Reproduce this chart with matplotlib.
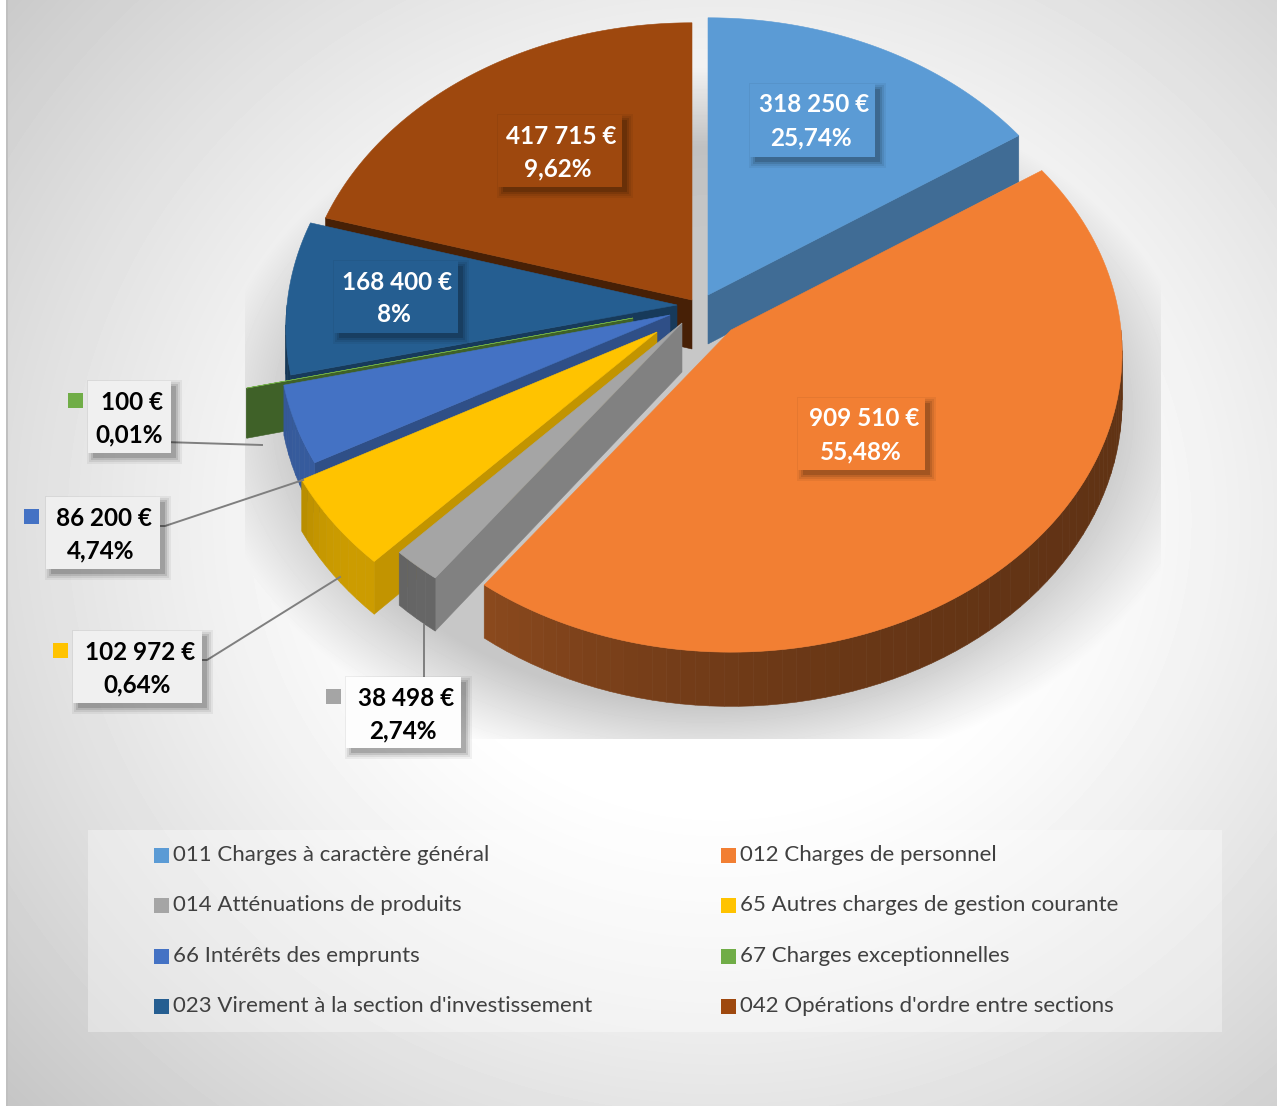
import numpy as np
import matplotlib
matplotlib.use("Agg")
import matplotlib.pyplot as plt
from matplotlib.patches import Polygon, Rectangle

plt.rcParams["font.family"] = ["Lato", "DejaVu Sans"]

categories = ["011 Charges à caractère général", "012 Charges de personnel",
              "014 Atténuations de produits", "65 Autres charges de gestion courante",
              "66 Intérêts des emprunts", "67 Charges exceptionnelles",
              "023 Virement à la section d'investissement",
              "042 Opérations d'ordre entre sections"]
values = [318250, 909510, 38498, 102972, 86200, 100, 168400, 417715]
value_labels = ["318 250 €", "909 510 €", "38 498 €", "102 972 €",
                "86 200 €", "100 €", "168 400 €", "417 715 €"]
pct_labels = ["25,74%", "55,48%", "2,74%", "0,64%", "4,74%", "0,01%", "8%", "9,62%"]
colors = ["#5B9BD5", "#F27F33", "#A5A5A5", "#FFC300", "#4472C4", "#70AD47", "#255E91", "#9E480E"]

# fake 3d look, pixel coordinates
apex = [(708, 295), (731, 330), (682, 323), (657, 332), (670, 315), (633, 318), (677, 305), (692, 300)]
wall_shade = [0.70, 0.50, 0.78, 0.76, 0.69, 0.56, 0.62, 0.45]
arc_shade = [(.6, .6), (.40, .58), (.62, .58), (.80, .70), (.80, .76), (.56, .56), (.6, .6), (.5, .5)]
draw_order = [7, 0, 6, 5, 4, 3, 2, 1]
A0, B0, KP, D0 = 390, 298, 0.075, 49

# label boxes: x0, y0, x1, y1, text x
boxes = [(750, 84, 875, 157, 814), (798, 398, 925, 470, 864), (346, 677, 461, 748, 406),
         (73, 631, 202, 703, 140), (46, 497, 160, 569, 104), (88, 381, 171, 453, 132),
         (334, 261, 458, 333, 397), (498, 115, 622, 187, 561)]
markers = {2: (326, 689), 3: (53, 643), 4: (24, 509), 5: (68, 393)}
leaders = {2: ([424, 424], [680, 625]), 3: ([195, 207, 340], [660, 660, 577]),
           4: ([155, 165, 303], [526, 526, 480]), 5: ([164, 262], [442, 445])}

W, H = 1277, 1106
fig = plt.figure(figsize=(W / 100, H / 100), dpi=100)
ax = fig.add_axes([0, 0, 1, 1])
ax.set_xlim(0, W)
ax.set_ylim(H, 0)
ax.axis("off")

# background: radial grey, soft shadow under the pie in a clipped rectangle
yy, xx = np.mgrid[0:H, 0:W]
r = np.hypot((xx - 720) / 880, (yy - 520) / 800)
bg = 1 - 0.23 * np.clip(r - 0.35, 0, None) ** 1.2 / 0.75 ** 1.2
rs = np.hypot((xx - 705) / 445, (yy - 425) / 320)
shadow = 0.22 * np.clip(1.12 - rs, 0, 0.25) / 0.25
shadow[(xx < 245) | (xx > 1160) | (yy > 738)] = 0
bg = bg - shadow
bg[:, :6] = 1.0
bg[:, 6:8] = 0.75
ax.imshow(bg, cmap="gray", vmin=0, vmax=1, extent=(0, W, H, 0), aspect="auto", zorder=0)


def rim(i, th):
    th = np.radians(th)
    w = 1 + KP * np.cos(th)
    x = apex[i][0] + A0 * np.sin(th) / w
    y = apex[i][1] - B0 * np.cos(th) / w
    return x, y, D0 / w ** 1.3


def shade(c, f):
    return tuple(np.array(matplotlib.colors.to_rgb(c)) * f)


def poly(pts, color, z=2):
    ax.add_patch(Polygon(pts, closed=True, facecolor=color, edgecolor=color, lw=0.4, zorder=z))


edges = np.concatenate([[0], np.cumsum(values)]) / sum(values) * 360

for i in draw_order:
    t0, t1 = edges[i], edges[i + 1]
    ax0, ay0 = apex[i]
    mx, my, _ = rim(i, (t0 + t1) / 2)
    # side walls facing the viewer
    for t in (t0, t1):
        rx, ry, d = rim(i, t)
        c1 = (rx - ax0) * (my - ay0) - (ry - ay0) * (mx - ax0)
        c2 = rx - ax0
        if c1 * c2 < 0:
            poly([(ax0, ay0), (rx, ry), (rx, ry + d), (ax0, ay0 + D0)], shade(colors[i], wall_shade[i]))
    # rim wall, only the front half
    lo, hi = max(t0, 90), min(t1, 270)
    if hi > lo:
        ts = np.linspace(lo, hi, max(2, int((hi - lo) / 2) + 2))
        for k in range(len(ts) - 1):
            xa, ya, da = rim(i, ts[k])
            xb, yb, db = rim(i, ts[k + 1])
            f = arc_shade[i][0] + (arc_shade[i][1] - arc_shade[i][0]) * ((ts[k] - lo) / (hi - lo)) ** 3
            poly([(xa, ya), (xb, yb), (xb, yb + db), (xa, ya + da)], shade(colors[i], f))
    # top
    ts = np.linspace(t0, t1, 120)
    x, y, _ = rim(i, ts)
    poly(list(zip(np.r_[ax0, x], np.r_[ay0, y])), colors[i])

for i in leaders:
    ax.plot(leaders[i][0], leaders[i][1], color="#7F7F7F", lw=1.4, zorder=3)

# data labels
for i, (x0, y0, x1, y1, tx) in enumerate(boxes):
    inside = i in (0, 1, 6, 7)
    for grow, alpha in ((6, 0.05), (4, 0.07), (2, 0.1), (0, 0.14)):
        ax.add_patch(Rectangle((x0 + 5 - grow, y0 + 5 - grow), x1 - x0 + 2 * grow, y1 - y0 + 2 * grow,
                               facecolor="black", edgecolor="none", alpha=alpha, zorder=4))
    if inside:
        ax.add_patch(Rectangle((x0, y0), x1 - x0, y1 - y0, facecolor=colors[i], edgecolor="none", zorder=5))
    else:
        bx = bg[y0:y1, x0:x1].mean()
        ax.add_patch(Rectangle((x0, y0), x1 - x0, y1 - y0, facecolor=str(min(bx + 0.03, 1)), edgecolor="none", zorder=5))
    tc = "white" if inside else "black"
    ax.text(tx, y0 + 21, value_labels[i], color=tc, fontsize=17.5, fontweight="bold", ha="center", va="center", zorder=6)
    ax.text(tx - 3, y0 + 54, pct_labels[i], color=tc, fontsize=17.5, fontweight="bold", ha="center", va="center", zorder=6)

for i, (mx0, my0) in markers.items():
    ax.add_patch(Rectangle((mx0, my0), 15, 15, facecolor=colors[i], edgecolor="none", zorder=6))

# legend
ax.add_patch(Rectangle((88, 830), 1134, 202, facecolor="white", alpha=0.35, edgecolor="none", zorder=3))
row_y = [855, 905, 956, 1006]
for i, name in enumerate(categories):
    lx = 154 if i % 2 == 0 else 721
    ly = row_y[i // 2]
    ax.add_patch(Rectangle((lx, ly - 7), 15, 15, facecolor=colors[i], edgecolor="none", zorder=4))
    ax.text(lx + 19, ly, name, color="#404040", fontsize=16, ha="left", va="center", zorder=4)

fig.savefig("out.png", dpi=100)
